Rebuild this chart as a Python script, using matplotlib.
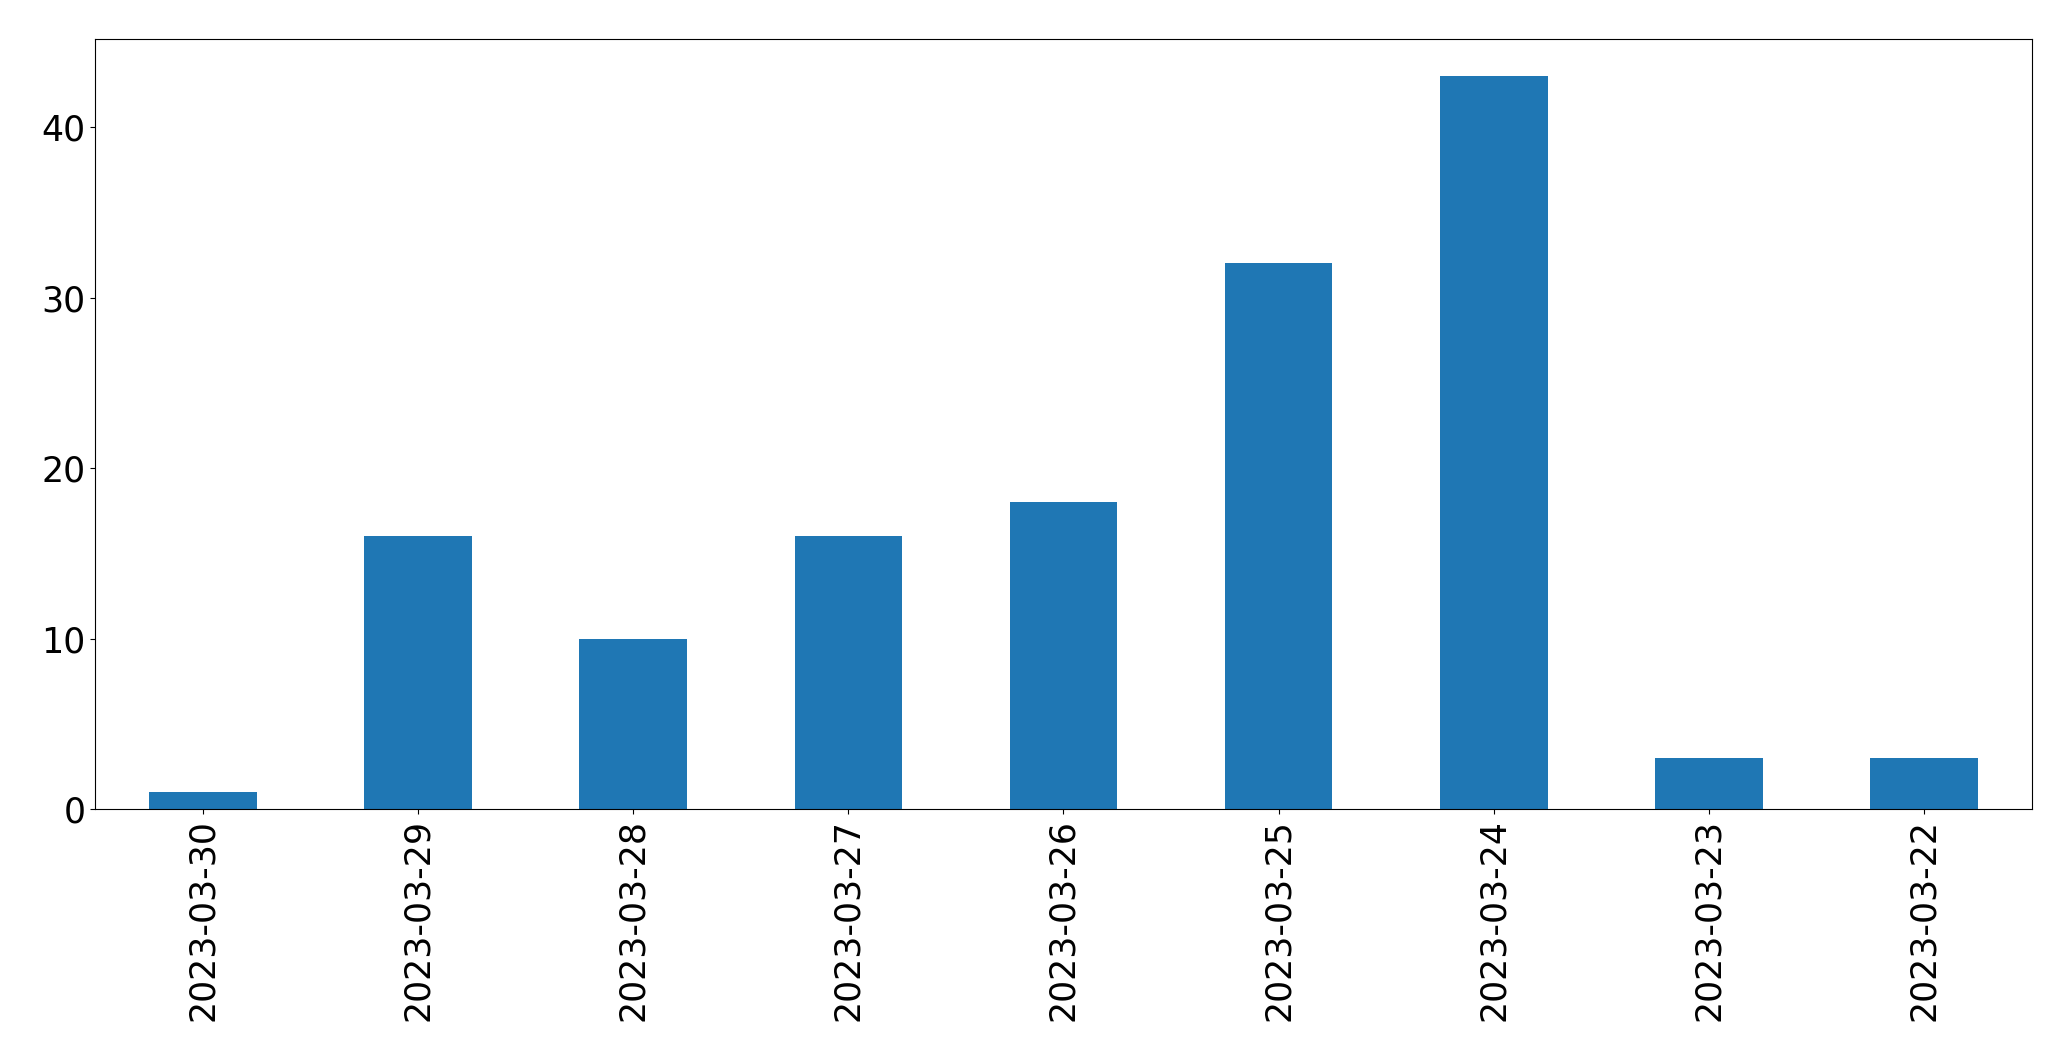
import matplotlib
matplotlib.use("Agg")
import matplotlib.pyplot as plt

# daily counts, newest first
dates = ["2023-03-30", "2023-03-29", "2023-03-28", "2023-03-27", "2023-03-26",
         "2023-03-25", "2023-03-24", "2023-03-23", "2023-03-22"]
counts = [1, 16, 10, 16, 18, 32, 43, 3, 3]

fig, ax = plt.subplots(figsize=(20.71, 10.61), dpi=100)
pos = list(range(len(dates)))
ax.bar(pos, counts, width=0.5, color="#1f77b4")
ax.set_xticks(pos)
ax.set_xticklabels(dates, rotation=90)
ax.set_xlim(-0.5, len(dates) - 0.5)
ax.set_ylim(0, max(counts) * 1.05)
ax.set_yticks([0, 10, 20, 30, 40])
ax.tick_params(axis="both", labelsize=25)

fig.subplots_adjust(left=0.046, right=0.981, top=0.963, bottom=0.2375)
fig.savefig("out.png", dpi=100)
